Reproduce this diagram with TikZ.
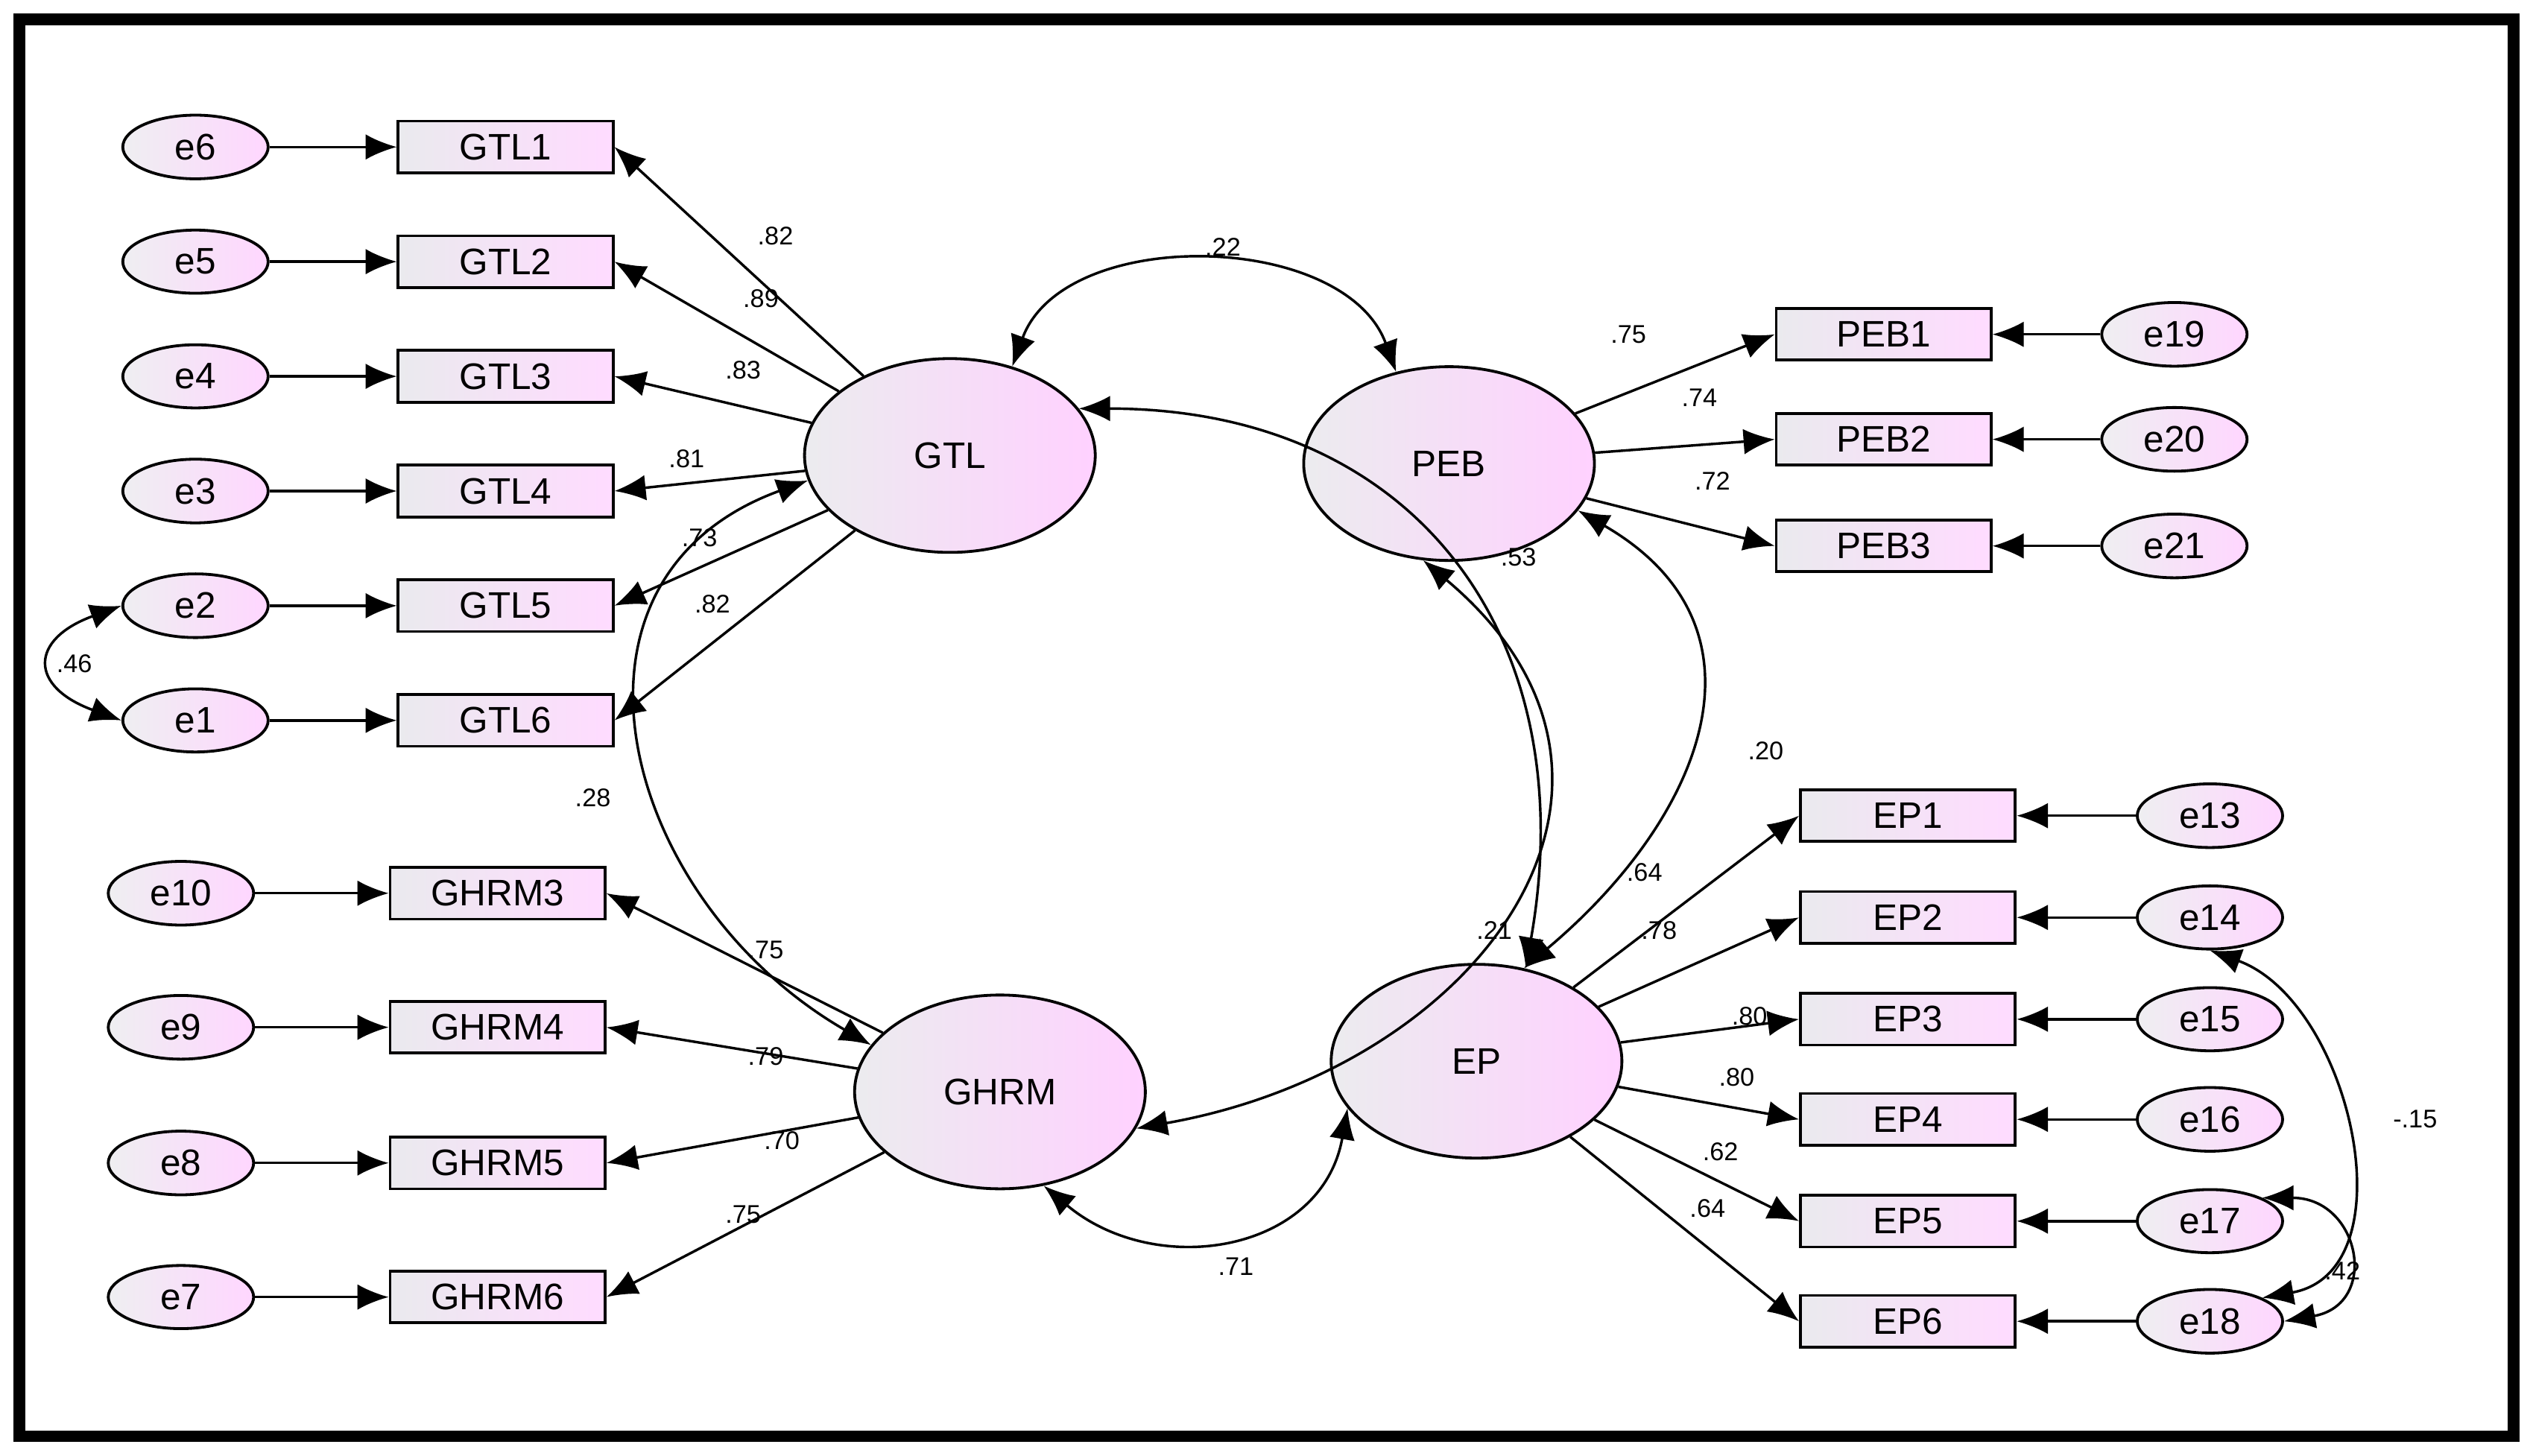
\documentclass[tikz,border=0pt]{standalone}
\usepackage{fontspec}
\setmainfont{Liberation Sans}
\usetikzlibrary{arrows.meta,shapes.geometric}
\tikzset{
  ind/.style={draw, line width=1pt, minimum width=2.66cm, minimum height=0.64cm, left color=blue!10!gray!15, right color=magenta!14, font=\fontsize{13}{13}\selectfont},
  err/.style={draw, line width=1pt, ellipse, minimum width=1.8cm, minimum height=0.76cm, left color=blue!8!gray!12, right color=magenta!16, font=\fontsize{13}{13}\selectfont},
  lat/.style={draw, line width=1pt, ellipse, minimum width=3.6cm, minimum height=2.4cm, left color=blue!8!gray!14, right color=magenta!18, font=\fontsize{13}{13}\selectfont},
  arr/.style={-{Latex[length=11pt,width=9pt]}, line width=0.9pt},
  cov/.style={{Latex[length=11pt,width=9pt]}-{Latex[length=11pt,width=9pt]}, line width=0.9pt},
  lab/.style={font=\fontsize{9}{9}\selectfont}
}
\begin{document}
\begin{tikzpicture}[x=0.02cm,y=-0.02cm]
\useasboundingbox (0,0) rectangle (1568,901);
\draw[line width=4pt] (12,12) rectangle (1556,889);
% latent variables
\node[lat] (gtl) at (588,282) {GTL};
\node[lat] (peb) at (897,287) {PEB};
\node[lat] (ghrm) at (619,676) {GHRM};
\node[lat] (ep) at (914,657) {EP};
% GTL indicators
\foreach \i/\e/\y/\v/\lx/\ly in {1/6/91/.82/480/146, 2/5/162/.89/471/185, 3/4/233/.83/460/229, 4/3/304/.81/425/284, 5/2/375/.73/433/333, 6/1/446/.82/441/374} {
  \node[ind] (gtl\i) at (313,\y) {GTL\i};
  \node[err] (e\e) at (121,\y) {e\e};
  \draw[arr] (e\e) -- (gtl\i);
  \draw[arr] (gtl) -- (gtl\i.east);
  \node[lab] at (\lx,\ly) {\v};
}
% GHRM indicators
\foreach \i/\e/\y/\v/\lx/\ly in {3/10/553/.75/474/588, 4/9/636/.79/474/654, 5/8/720/.70/484/706, 6/7/803/.75/460/752} {
  \node[ind] (ghrm\i) at (308,\y) {GHRM\i};
  \node[err] (e\e) at (112,\y) {e\e};
  \draw[arr] (e\e) -- (ghrm\i);
  \draw[arr] (ghrm) -- (ghrm\i.east);
  \node[lab] at (\lx,\ly) {\v};
}
% PEB indicators
\foreach \i/\e/\y/\v/\lx/\ly in {1/19/207/.75/1008/207, 2/20/272/.74/1052/246, 3/21/338/.72/1060/298} {
  \node[ind] (peb\i) at (1166,\y) {PEB\i};
  \node[err] (e\e) at (1346,\y) {e\e};
  \draw[arr] (e\e) -- (peb\i);
  \draw[arr] (peb) -- (peb\i.west);
  \node[lab] at (\lx,\ly) {\v};
}
% EP indicators
\foreach \i/\e/\y/\v/\lx/\ly in {1/13/505/.64/1018/540, 2/14/568/.78/1027/576, 3/15/631/.80/1083/629, 4/16/693/.80/1075/667, 5/17/756/.62/1065/713, 6/18/818/.64/1057/748} {
  \node[ind] (ep\i) at (1181,\y) {EP\i};
  \node[err] (e\e) at (1368,\y) {e\e};
  \draw[arr] (e\e) -- (ep\i);
  \draw[arr] (ep) -- (ep\i.west);
  \node[lab] at (\lx,\ly) {\v};
}
% covariances
\draw[cov] (gtl.55) to[out=70,in=110,looseness=1.0] (peb.120);
\node[lab] at (757,153) {.22};
\draw[cov] (gtl.190) to[out=200,in=150,looseness=1.3] (ghrm.160);
\node[lab] at (367,494) {.28};
\draw[cov] (gtl.20) to[out=0,in=80,looseness=1.2] (ep.62);
\node[lab] at (940,345) {.53};
\draw[cov] (peb.255) to[out=-40,in=10,looseness=1.4] (ghrm.345);
\node[lab] at (925,576) {.21};
\draw[cov] (peb.340) to[out=-30,in=40,looseness=1.3] (ep.63);
\node[lab] at (1093,465) {.20};
\draw[cov] (ghrm.295) to[out=-40,in=-100,looseness=1.2] (ep.200);
\node[lab] at (765,784) {.71};
\draw[cov] (e2.west) to[out=200,in=160,looseness=2.2] (e1.west);
\node[lab] at (46,411) {.46};
\draw[cov] (e14.south) to[out=-20,in=10,looseness=1.1] (e18.north east);
\node[lab] at (1495,693) {-.15};
\draw[cov] (e17.north east) to[out=0,in=10,looseness=2] (e18.east);
\node[lab] at (1450,787) {.42};
\end{tikzpicture}
\end{document}
